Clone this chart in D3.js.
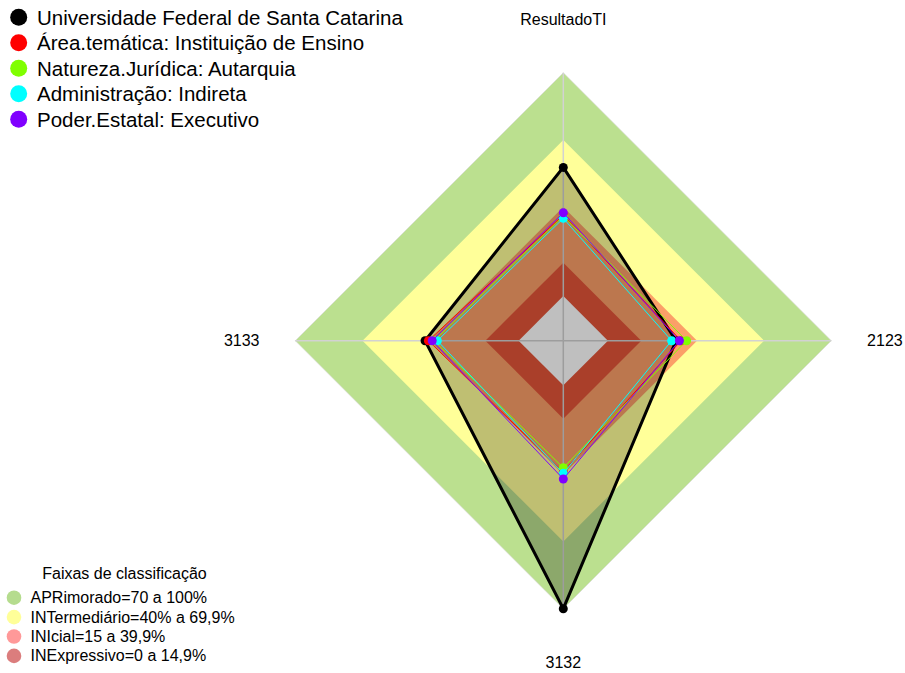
<!DOCTYPE html>
<html>
<head>
<meta charset="utf-8">
<script src="https://cdn.jsdelivr.net/npm/d3@7"></script>
<style>
body{margin:0;background:#fff}
svg{display:block}
text{font-family:"Liberation Sans",Arial,sans-serif;fill:#000}
</style>
</head>
<body>
<div id="chart"></div>
<script>
// axes, clockwise from the top
const axes = ["ResultadoTI", "2123", "3132", "3133"];

const seriesNames = [
    "Universidade Federal de Santa Catarina",
    "Área.temática: Instituição de Ensino",
    "Natureza.Jurídica: Autarquia",
    "Administração: Indireta",
    "Poder.Estatal: Executivo"
];
const seriesColors = ["#000000", "#ff0000", "#80ff00", "#00ffff", "#8000ff"];

// values in %
const ufsc = [57.6, 30.5, 100, 41.9];
const areaTematica = [36.3, 32.7, 38.8, 40.4];
const naturezaJuridica = [35.8, 35.2, 36.9, 37.9];
const administracao = [34.8, 28.5, 39.4, 36.4];
const poderEstatal = [37.3, 32.0, 41.9, 38.7];
const seriesValues = [ufsc, areaTematica, naturezaJuridica, administracao, poderEstatal];

// classification bands
const bandNames = [
    "APRimorado=70 a 100%",
    "INTermediário=40% a 69,9%",
    "INIcial=15 a 39,9%",
    "INExpressivo=0 a 14,9%"
];
const bandUpper = [100, 69.9, 39.9, 14.9];
const bandFill = ["#bbe08f", "#ffff99", "#fb9f68", "#e35539"];
const bandLegend = ["#b5dc8e", "#ffff99", "#ff9999", "#db7d7d"];

const width = 905;
const height = 673;
const cx = 563.3, cy = 340.7, R = 268;

const svg = d3.select("#chart")
    .append("svg")
    .attr("width", width)
    .attr("height", height);

// fmsb-style scale: 0 sits at 1/6 of the radius
const r = d3.scaleLinear().domain([0, 100]).range([R / 6, R]);
const angle = i => i * 2 * Math.PI / axes.length;

const radial = d3.lineRadial()
    .angle((d, i) => angle(i))
    .radius(d => r(d))
    .curve(d3.curveLinearClosed);

const g = svg.append("g").attr("transform", `translate(${cx},${cy})`);

// bands, outer to inner, then the white hole
g.append("g")
    .selectAll("path")
    .data(bandUpper.concat([0]))
    .join("path")
    .attr("d", v => radial(axes.map(() => v)))
    .attr("fill", (v, i) => i < bandFill.length ? bandFill[i] : "#ffffff")
    .attr("stroke", (v, i) => i == 0 ? "#d6d6d6" : "none")
    .attr("stroke-width", 0.6);

// axis lines
g.append("g")
    .selectAll("line")
    .data(axes)
    .join("line")
    .attr("x1", 0).attr("y1", 0)
    .attr("x2", (d, i) => R * Math.sin(angle(i)))
    .attr("y2", (d, i) => -R * Math.cos(angle(i)))
    .attr("stroke", "#d2d2d2")
    .attr("stroke-width", 1.5);

// series
seriesValues.forEach((vals, s) => {
    const sg = g.append("g");
    sg.append("path")
        .attr("d", radial(vals))
        .attr("fill", s == 0 ? "rgba(0,0,0,0.25)" : "none")
        .attr("stroke", seriesColors[s])
        .attr("stroke-width", s == 0 ? 3 : 1)
        .attr("stroke-linejoin", "miter");
    sg.selectAll("circle")
        .data(vals)
        .join("circle")
        .attr("cx", (d, i) => r(d) * Math.sin(angle(i)))
        .attr("cy", (d, i) => -r(d) * Math.cos(angle(i)))
        .attr("r", 4.5)
        .attr("fill", seriesColors[s]);
});

// axis labels at 1.2 R
g.append("g")
    .selectAll("text")
    .data(axes)
    .join("text")
    .attr("x", (d, i) => 1.2 * R * Math.sin(angle(i)))
    .attr("y", (d, i) => -1.2 * R * Math.cos(angle(i)))
    .attr("text-anchor", "middle")
    .attr("dominant-baseline", "central")
    .attr("font-size", "16px")
    .text(d => d);

// series legend
const leg = svg.append("g");
seriesNames.forEach((name, i) => {
    const y = 17.3 + i * 25.5;
    leg.append("circle").attr("cx", 18.7).attr("cy", y).attr("r", 8.5).attr("fill", seriesColors[i]);
    leg.append("text").attr("x", 37).attr("y", y)
        .attr("dominant-baseline", "central")
        .attr("font-size", "20.5px")
        .text(name);
});

// band legend
const leg2 = svg.append("g");
leg2.append("text")
    .attr("x", 124.5).attr("y", 573)
    .attr("text-anchor", "middle")
    .attr("dominant-baseline", "central")
    .attr("font-size", "16px")
    .text("Faixas de classificação");
bandNames.forEach((name, i) => {
    const y = 597.7 + i * 19.4;
    leg2.append("circle").attr("cx", 14).attr("cy", y).attr("r", 7.3).attr("fill", bandLegend[i]);
    leg2.append("text").attr("x", 30.5).attr("y", y)
        .attr("dominant-baseline", "central")
        .attr("font-size", "16px")
        .text(name);
});
</script>
</body>
</html>
